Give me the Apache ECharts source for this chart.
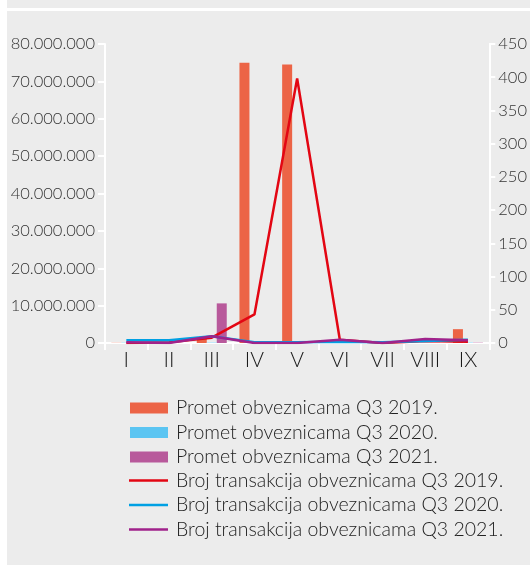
<!DOCTYPE html>
<html>
<head>
<meta charset="utf-8">
<script src="https://cdn.jsdelivr.net/npm/echarts@6/dist/echarts.min.js"></script>
<style>
html,body{margin:0;padding:0;background:#fff;}
#c{width:530px;height:565px;}
</style>
</head>
<body>
<div id="c"></div>
<script>
const categories = ['I','II','III','IV','V','VI','VII','VIII','IX'];
const leftTicks = ['0','10.000.000','20.000.000','30.000.000','40.000.000','50.000.000','60.000.000','70.000.000','80.000.000'];
const rightTicks = ['0','50','100','150','200','250','300','350','400','450'];
const prometNames = ['Promet obveznicama Q3 2019.','Promet obveznicama Q3 2020.','Promet obveznicama Q3 2021.'];
const brojNames = ['Broj transakcija obveznicama Q3 2019.','Broj transakcija obveznicama Q3 2020.','Broj transakcija obveznicama Q3 2021.'];
const promet2019 = [50000, 50000, 1300000, 75000000, 74500000, 50000, 50000, 50000, 3700000];
const promet2020 = [80000, 80000, 100000, 60000, 50000, 60000, 60000, 80000, 100000];
const promet2021 = [50000, 50000, 10600000, 50000, 50000, 50000, 50000, 60000, 80000];
const broj2019 = [0, 1, 8, 43, 398, 5, 0, 3, 2];
const broj2020 = [4, 4, 10, 1, 1, 2, 1, 3, 5];
const broj2021 = [1, 0, 10, 0, 0, 5, 0, 6, 4];

const FONT = 'Lato';
const chart = echarts.init(document.getElementById('c'), null, {renderer:'canvas'});
const barColors = ['#ec6446','#5bc5f2','#b8599b'];
const lineColors = ['#e30613','#00a0e3','#a0228b'];

function fmtLeft(v){ return leftTicks[Math.round(v/10000000)]; }
function fmtRight(v){ return rightTicks[Math.round(v/50)]; }

const series = [];
[promet2019, promet2020, promet2021].forEach((d,i)=>{
  series.push({type:'bar', name:prometNames[i], yAxisIndex:0, data:d, barWidth:10, barGap:'0%',
    itemStyle:{color:barColors[i]}});
});
[broj2019, broj2020, broj2021].forEach((d,i)=>{
  series.push({type:'line', name:brojNames[i], yAxisIndex:1, data:d, symbol:'none',
    lineStyle:{color:lineColors[i], width:2.5}, itemStyle:{color:lineColors[i]}, z:3+i});
});

const legendText = {fontFamily:FONT, fontSize:19.5, color:'#222', lineHeight:20, fontWeight:300, padding:[0,0,0,3]};

chart.setOption({
  backgroundColor:'#ffffff',
  animation:false,
  graphic:[
    {type:'rect', shape:{x:7,y:0,width:523,height:8}, style:{fill:'#ececec'}, z:-10, silent:true},
    {type:'rect', shape:{x:7,y:11,width:523,height:554}, style:{fill:'#ececec'}, z:-10, silent:true}
  ],
  grid:{left:105, right:36, top:44, bottom:222, containLabel:false},
  legend:[
    {
      orient:'vertical', left:130, top:398, padding:0, itemWidth:38, itemHeight:11, itemGap:4.5,
      textStyle:legendText, icon:'rect',
      data:prometNames.slice()
    },
    {
      orient:'vertical', left:129, top:470.5, padding:0, itemWidth:39, itemHeight:2.5, itemGap:4.5,
      textStyle:legendText, icon:'rect',
      data:brojNames.slice()
    }
  ],
  xAxis:{
    type:'category', data:categories, boundaryGap:true,
    axisLine:{lineStyle:{color:'#ffffff', width:2}},
    axisTick:{show:true, length:7, lineStyle:{color:'#ffffff', width:2}},
    axisLabel:{fontFamily:FONT, fontSize:21, color:'#1a1a1a', margin:7, fontWeight:300}
  },
  yAxis:[
    {type:'value', min:0, max:80000000, interval:10000000, position:'left',
      axisLine:{show:true, lineStyle:{color:'#ffffff', width:2}},
      axisTick:{show:true, length:7, lineStyle:{color:'#ffffff', width:2}},
      splitLine:{show:false},
      axisLabel:{fontFamily:FONT, fontSize:16.5, color:'#333', margin:10, formatter:fmtLeft, fontWeight:300}
    },
    {type:'value', min:0, max:450, interval:50, position:'right',
      axisLine:{show:true, lineStyle:{color:'#ffffff', width:2}},
      axisTick:{show:true, length:6, lineStyle:{color:'#ffffff', width:2}},
      splitLine:{show:false},
      axisLabel:{fontFamily:FONT, fontSize:16.5, color:'#333', margin:9, formatter:fmtRight, fontWeight:300}
    }
  ],
  series:series
});
</script>
</body>
</html>
